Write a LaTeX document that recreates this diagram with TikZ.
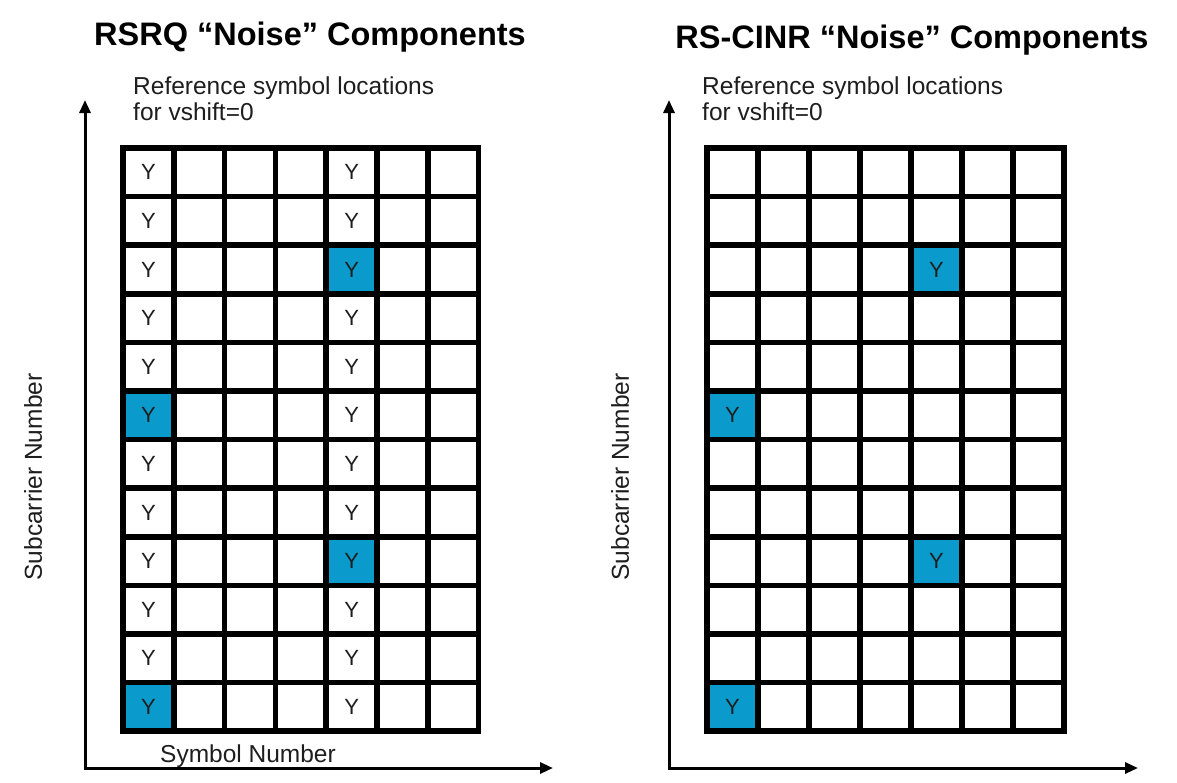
\documentclass[tikz,border=0pt]{standalone}
\usepackage{fontspec}
\setmainfont{Liberation Sans}
\usetikzlibrary{arrows.meta}
\definecolor{rsblue}{HTML}{0A9BCC}
\definecolor{rstext}{HTML}{1E1E1E}

\tikzset{
  recell/.style={draw=black, line width=5.5pt, fill=white, minimum width=50.8pt, minimum height=48.6pt, inner sep=0pt},
  rspilot/.style={recell, fill=rsblue},
  ylabel/.style={font=\fontsize{22}{22}\selectfont, text=rstext, inner sep=0pt},
  axisline/.style={line width=3pt, arrows={Triangle[length=13pt,width=11pt]-Triangle[length=13pt,width=11pt]}},
  paneltitle/.style={font=\fontsize{32.5}{32.5}\selectfont\bfseries, inner sep=0pt},
  axislabel/.style={font=\fontsize{24.5}{26}\selectfont, text=rstext, inner sep=0pt},
}

\begin{document}
\begin{tikzpicture}[x=1pt, y=-1pt]
    \useasboundingbox (0,0) rectangle (1177,782);

    % Titles
    \node[paneltitle, anchor=base] (ltitle) at (310,45) {RSRQ “Noise” Components};
    \node[paneltitle, anchor=base] (rtitle) at (912,48) {RS-CINR “Noise” Components};

    % Left grid
    \foreach \r in {1,...,12}
      \foreach \c in {1,...,7}
        \node[recell] (l\r-\c) at ({97.6+50.8*\c},{123.7+48.6*\r}) {};
    \foreach \r/\c in {3/5,6/1,9/5,12/1}
      \node[rspilot] at (l\r-\c) {};
    \foreach \r in {1,...,12}
      \foreach \c in {1,5}
        \node[ylabel] at (l\r-\c) {Y};

    % Right grid
    \foreach \r in {1,...,12}
      \foreach \c in {1,...,7}
        \node[recell] (r\r-\c) at ({681.5+51*\c},{123.7+48.6*\r}) {};
    \foreach \r/\c in {3/5,6/1,9/5,12/1}{
      \node[rspilot] at (r\r-\c) {};
      \node[ylabel] at (r\r-\c) {Y};
    }

    % Axes
    \coordinate (lorig) at (85,768);
    \coordinate (ltop) at (85,100);
    \coordinate (lend) at (553,768);
    \draw[axisline] (ltop) -- (lorig) -- (lend);
    \coordinate (rorig) at (669,768);
    \coordinate (rtop) at (669,100);
    \coordinate (rend) at (1138,768);
    \draw[axisline] (rtop) -- (rorig) -- (rend);

    % Labels
    \node[axislabel, anchor=north west, align=left] (lnote) at (133,77) {Reference symbol locations\\for vshift=0};
    \node[axislabel, anchor=north west, align=left] (rnote) at (702,77) {Reference symbol locations\\for vshift=0};
    \node[axislabel, rotate=90] (lsub) at (33,477) {Subcarrier Number};
    \node[axislabel, rotate=90] (rsub) at (620,477) {Subcarrier Number};
    \node[axislabel, anchor=base] (lsym) at (248,762) {Symbol Number};
\end{tikzpicture}
\end{document}
